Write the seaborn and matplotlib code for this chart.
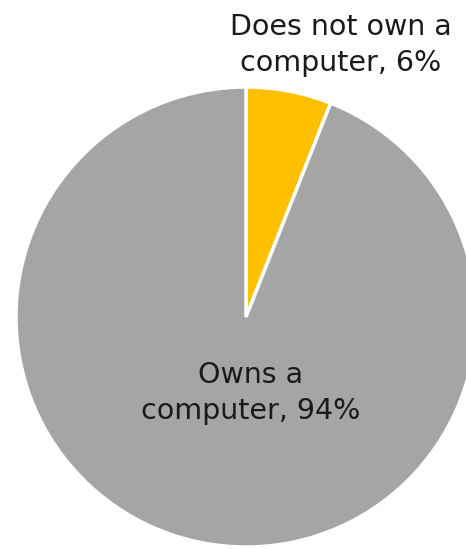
import matplotlib
matplotlib.use("Agg")
import matplotlib.pyplot as plt
import seaborn as sns

# Computer ownership shares
categories = ["Does not own a\ncomputer", "Owns a\ncomputer"]
shares = [6, 94]
colors = ["#FFC000", "#A5A5A5"]

sns.set_theme(style="white")
plt.rcParams["font.family"] = ["DejaVu Sans"]

W, H = 466, 549
fig = plt.figure(figsize=(W / 100, H / 100), dpi=100)
ax = fig.add_axes([0, 0, 1, 1])

cx, cy, r = 246, H - 317, 230
ax.pie(shares, colors=colors, startangle=90, counterclock=False,
       center=(cx, cy), radius=r, frame=True,
       wedgeprops=dict(edgecolor="white", linewidth=2.5))
ax.set_xlim(0, W)
ax.set_ylim(0, H)
ax.set_aspect("equal")
ax.axis("off")

labels = [f"{c}, {s}%" for c, s in zip(categories, shares)]
ax.text(341, H - 45, labels[0], ha="center", va="center", fontsize=20.5,
        color="#1a1a1a", linespacing=1.38)
ax.text(251, H - 393, labels[1], ha="center", va="center", fontsize=20.5,
        color="#1a1a1a", linespacing=1.38)

fig.savefig("out.png", dpi=100)
